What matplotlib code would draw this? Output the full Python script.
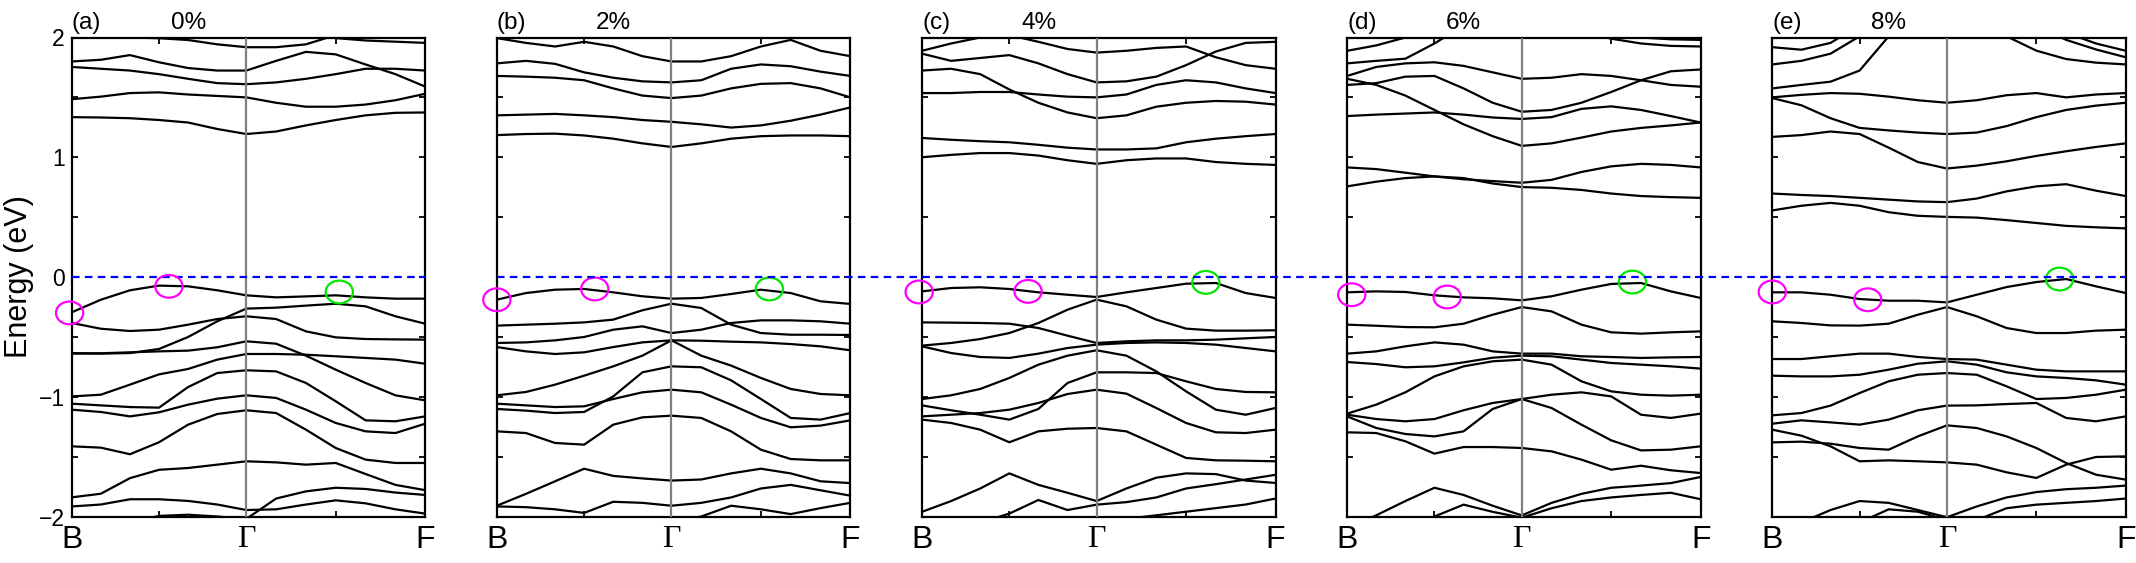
import matplotlib.pyplot as plt
from matplotlib.patches import Ellipse
from matplotlib.lines import Line2D

plt.rcParams['font.family'] = ['Liberation Sans', 'DejaVu Sans']

# k-path sample points (B -> Gamma -> F), Gamma at 0.494
kpath = [0.0, 0.0823, 0.1647, 0.247, 0.3293, 0.4117, 0.494,
         0.5783, 0.6627, 0.747, 0.8313, 0.9157, 1.0]
k_gamma = 0.494
klabels = ['B', '\u0393', 'F']

tags = ['(a)', '(b)', '(c)', '(d)', '(e)']
strains = ['0%', '2%', '4%', '6%', '8%']

# band energies (eV)
bands_a = [
    [2.0, 2.0, 2.0, 1.994, 1.979, 1.943, 1.919, 1.919, 1.943, 2.02, 2.08, 2.1, 2.1],
    [2.1, 2.1, 2.1, 2.1, 2.1, 2.1, 2.1, 2.1, 2.05, 1.995, 1.975, 1.965, 1.955],
    [1.80, 1.814, 1.853, 1.793, 1.745, 1.724, 1.724, 1.805, 1.88, 1.859, 1.775, 1.694, 1.59],
    [1.754, 1.739, 1.724, 1.694, 1.655, 1.619, 1.61, 1.625, 1.655, 1.694, 1.739, 1.739, 1.724],
    [1.485, 1.506, 1.536, 1.542, 1.524, 1.512, 1.50, 1.455, 1.422, 1.422, 1.44, 1.476, 1.53],
    [1.335, 1.332, 1.326, 1.311, 1.29, 1.236, 1.194, 1.215, 1.266, 1.311, 1.35, 1.371, 1.374],
    [-0.295, -0.19, -0.111, -0.072, -0.078, -0.111, -0.153, -0.170, -0.162, -0.153, -0.170, -0.181, -0.181],
    [-0.384, -0.432, -0.451, -0.440, -0.398, -0.351, -0.328, -0.351, -0.454, -0.504, -0.518, -0.521, -0.523],
    [-0.635, -0.640, -0.635, -0.601, -0.501, -0.370, -0.264, -0.256, -0.239, -0.223, -0.245, -0.328, -0.390],
    [-0.640, -0.637, -0.629, -0.621, -0.615, -0.587, -0.537, -0.557, -0.657, -0.774, -0.885, -0.988, -1.03],
    [-0.997, -0.983, -0.899, -0.813, -0.768, -0.690, -0.643, -0.643, -0.649, -0.662, -0.676, -0.690, -0.724],
    [-1.058, -1.072, -1.086, -1.091, -0.919, -0.802, -0.779, -0.788, -0.885, -1.038, -1.197, -1.205, -1.164],
    [-1.108, -1.127, -1.164, -1.130, -1.066, -1.016, -0.988, -1.010, -1.108, -1.219, -1.289, -1.303, -1.225],
    [-1.414, -1.425, -1.48, -1.38, -1.233, -1.144, -1.113, -1.136, -1.275, -1.428, -1.525, -1.553, -1.553],
    [-1.84, -1.81, -1.68, -1.61, -1.595, -1.567, -1.539, -1.548, -1.567, -1.553, -1.645, -1.736, -1.78],
    [-1.916, -1.90, -1.856, -1.856, -1.87, -1.90, -1.946, -1.94, -1.90, -1.865, -1.89, -1.94, -1.976],
    [-2.1, -2.1, -2.05, -1.995, -1.985, -2.0, -2.02, -1.85, -1.79, -1.76, -1.77, -1.80, -1.82],
]

bands_b = [
    [1.995, 1.955, 1.925, 1.964, 1.925, 1.844, 1.80, 1.80, 1.844, 1.925, 1.98, 1.889, 1.844],
    [1.784, 1.805, 1.78, 1.709, 1.664, 1.634, 1.625, 1.643, 1.739, 1.775, 1.760, 1.715, 1.679],
    [1.679, 1.673, 1.664, 1.643, 1.575, 1.515, 1.494, 1.515, 1.575, 1.613, 1.619, 1.575, 1.50],
    [1.35, 1.356, 1.362, 1.35, 1.335, 1.311, 1.296, 1.275, 1.248, 1.266, 1.305, 1.356, 1.416],
    [1.185, 1.194, 1.197, 1.182, 1.155, 1.116, 1.086, 1.116, 1.155, 1.176, 1.182, 1.182, 1.176],
    [-0.189, -0.134, -0.106, -0.100, -0.128, -0.161, -0.181, -0.175, -0.142, -0.106, -0.134, -0.203, -0.225],
    [-0.406, -0.398, -0.390, -0.379, -0.356, -0.278, -0.223, -0.259, -0.398, -0.468, -0.482, -0.482, -0.484],
    [-0.551, -0.546, -0.529, -0.501, -0.440, -0.412, -0.468, -0.440, -0.384, -0.362, -0.362, -0.370, -0.390],
    [-0.585, -0.621, -0.643, -0.629, -0.585, -0.546, -0.529, -0.532, -0.540, -0.546, -0.560, -0.579, -0.612],
    [-0.988, -0.960, -0.899, -0.824, -0.746, -0.657, -0.529, -0.657, -0.740, -0.843, -0.935, -0.977, -0.988],
    [-1.102, -1.116, -1.136, -1.127, -0.997, -0.796, -0.746, -0.754, -0.863, -1.019, -1.177, -1.191, -1.136],
    [-1.058, -1.072, -1.086, -1.080, -1.019, -0.963, -0.941, -0.963, -1.066, -1.177, -1.255, -1.241, -1.197],
    [-1.289, -1.303, -1.386, -1.40, -1.233, -1.172, -1.158, -1.177, -1.289, -1.442, -1.520, -1.531, -1.531],
    [-1.910, -1.811, -1.706, -1.601, -1.661, -1.682, -1.700, -1.691, -1.640, -1.601, -1.640, -1.706, -1.721],
    [-1.916, -1.922, -1.940, -1.970, -1.877, -1.886, -1.910, -1.886, -1.841, -1.766, -1.736, -1.781, -1.826],
    [-2.1, -2.1, -2.1, -2.1, -2.1, -2.08, -2.05, -2.0, -1.91, -1.94, -1.98, -1.93, -1.886],
]

bands_c = [
    [1.889, 1.95, 2.0, 2.02, 1.964, 1.904, 1.874, 1.889, 1.913, 1.925, 1.835, 1.769, 1.739],
    [1.865, 1.805, 1.829, 1.853, 1.784, 1.694, 1.625, 1.634, 1.673, 1.769, 1.883, 1.955, 1.964],
    [1.724, 1.739, 1.694, 1.566, 1.455, 1.374, 1.326, 1.35, 1.422, 1.455, 1.47, 1.464, 1.44],
    [1.536, 1.536, 1.545, 1.545, 1.524, 1.506, 1.50, 1.524, 1.604, 1.643, 1.625, 1.575, 1.536],
    [1.161, 1.146, 1.134, 1.125, 1.104, 1.08, 1.065, 1.065, 1.074, 1.125, 1.155, 1.176, 1.194],
    [1.0, 1.02, 1.035, 1.035, 1.014, 0.975, 0.945, 0.975, 0.99, 0.99, 0.96, 0.945, 0.936],
    [-0.120, -0.092, -0.086, -0.100, -0.128, -0.148, -0.167, -0.128, -0.092, -0.056, -0.050, -0.134, -0.175],
    [-0.379, -0.381, -0.384, -0.390, -0.426, -0.490, -0.551, -0.537, -0.529, -0.529, -0.523, -0.512, -0.501],
    [-0.573, -0.551, -0.518, -0.468, -0.384, -0.273, -0.189, -0.245, -0.356, -0.431, -0.448, -0.448, -0.445],
    [-0.579, -0.635, -0.668, -0.676, -0.640, -0.593, -0.565, -0.551, -0.546, -0.551, -0.565, -0.593, -0.621],
    [-1.019, -0.988, -0.935, -0.843, -0.732, -0.657, -0.612, -0.657, -0.788, -0.955, -1.108, -1.150, -1.094],
    [-1.072, -1.113, -1.150, -1.191, -1.102, -0.885, -0.796, -0.796, -0.802, -0.871, -0.935, -0.960, -0.963],
    [-1.164, -1.150, -1.136, -1.108, -1.052, -0.977, -0.941, -0.974, -1.094, -1.219, -1.297, -1.303, -1.275],
    [-1.191, -1.219, -1.275, -1.38, -1.289, -1.267, -1.261, -1.289, -1.400, -1.511, -1.531, -1.534, -1.539],
    [-1.961, -1.871, -1.766, -1.640, -1.736, -1.802, -1.871, -1.766, -1.676, -1.640, -1.646, -1.700, -1.720],
    [-2.05, -2.05, -2.05, -1.976, -1.862, -1.946, -1.901, -1.880, -1.841, -1.766, -1.730, -1.691, -1.652],
    [-2.1, -2.1, -2.1, -2.1, -2.1, -2.1, -2.05, -2.02, -1.99, -1.96, -1.93, -1.90, -1.85],
]

bands_d = [
    [1.889, 1.934, 2.0, 2.1, 2.1, 2.1, 2.1, 2.1, 2.1, 2.1, 2.1, 2.1, 2.1],
    [1.784, 1.805, 1.823, 1.95, 2.1, 2.1, 2.1, 2.1, 2.1, 2.1, 2.1, 2.1, 2.1],
    [1.679, 1.754, 1.784, 1.793, 1.763, 1.709, 1.655, 1.664, 1.694, 1.679, 1.643, 1.604, 1.589],
    [1.604, 1.619, 1.673, 1.679, 1.575, 1.455, 1.380, 1.395, 1.455, 1.545, 1.643, 1.718, 1.733],
    [1.655, 1.604, 1.515, 1.395, 1.275, 1.176, 1.095, 1.116, 1.164, 1.215, 1.245, 1.266, 1.290],
    [1.344, 1.356, 1.365, 1.374, 1.356, 1.332, 1.320, 1.335, 1.404, 1.425, 1.395, 1.344, 1.290],
    [2.1, 2.1, 2.1, 2.1, 2.1, 2.1, 2.1, 2.1, 2.05, 1.99, 1.95, 1.93, 1.925],
    [2.1, 2.1, 2.1, 2.1, 2.1, 2.1, 2.1, 2.1, 2.1, 2.03, 2.0, 1.985, 1.98],
    [0.915, 0.901, 0.871, 0.840, 0.816, 0.801, 0.787, 0.811, 0.877, 0.924, 0.945, 0.936, 0.915],
    [0.757, 0.796, 0.826, 0.840, 0.826, 0.781, 0.751, 0.745, 0.727, 0.697, 0.676, 0.667, 0.661],
    [-0.128, -0.120, -0.125, -0.153, -0.170, -0.178, -0.195, -0.161, -0.106, -0.058, -0.050, -0.120, -0.175],
    [-0.398, -0.407, -0.418, -0.420, -0.390, -0.315, -0.251, -0.287, -0.398, -0.462, -0.473, -0.462, -0.454],
    [-0.640, -0.621, -0.579, -0.546, -0.565, -0.621, -0.640, -0.640, -0.662, -0.668, -0.676, -0.671, -0.668],
    [-0.710, -0.727, -0.754, -0.746, -0.713, -0.674, -0.657, -0.662, -0.690, -0.718, -0.732, -0.746, -0.765],
    [-1.141, -1.066, -0.963, -0.830, -0.746, -0.704, -0.690, -0.732, -0.871, -0.955, -0.983, -0.991, -0.983],
    [-1.150, -1.186, -1.205, -1.186, -1.113, -1.052, -1.019, -0.983, -0.963, -0.997, -1.150, -1.177, -1.141],
    [-1.164, -1.261, -1.311, -1.331, -1.289, -1.102, -1.019, -1.094, -1.233, -1.364, -1.448, -1.442, -1.414],
    [-1.297, -1.303, -1.372, -1.475, -1.420, -1.420, -1.428, -1.456, -1.525, -1.609, -1.576, -1.614, -1.637],
    [-2.1, -1.99, -1.871, -1.760, -1.820, -1.910, -1.991, -1.886, -1.811, -1.760, -1.742, -1.721, -1.670],
    [-2.1, -2.1, -2.1, -2.0, -1.901, -1.961, -2.01, -1.931, -1.871, -1.841, -1.820, -1.802, -1.856],
]

bands_e = [
    [1.919, 1.898, 1.955, 2.1, 2.1, 2.1, 2.1, 2.1, 2.1, 2.1, 2.1, 2.1, 2.1],
    [1.775, 1.805, 1.865, 2.01, 2.1, 2.1, 2.1, 2.1, 2.1, 2.1, 2.1, 2.1, 2.1],
    [1.575, 1.604, 1.631, 1.724, 2.01, 2.1, 2.1, 2.1, 2.1, 2.1, 2.1, 2.1, 2.1],
    [1.50, 1.521, 1.536, 1.530, 1.506, 1.476, 1.455, 1.476, 1.518, 1.536, 1.50, 1.524, 1.536],
    [1.494, 1.434, 1.326, 1.245, 1.224, 1.206, 1.194, 1.206, 1.260, 1.335, 1.395, 1.431, 1.455],
    [1.170, 1.185, 1.215, 1.194, 1.080, 0.960, 0.906, 0.930, 0.966, 1.011, 1.050, 1.086, 1.116],
    [2.1, 2.1, 2.1, 2.1, 2.1, 2.1, 2.1, 2.1, 2.01, 1.89, 1.82, 1.79, 1.775],
    [2.1, 2.1, 2.1, 2.1, 2.1, 2.1, 2.1, 2.1, 2.1, 2.1, 1.98, 1.90, 1.835],
    [2.1, 2.1, 2.1, 2.1, 2.1, 2.1, 2.1, 2.1, 2.1, 2.1, 2.04, 1.95, 1.889],
    [0.697, 0.685, 0.676, 0.661, 0.646, 0.631, 0.625, 0.655, 0.715, 0.757, 0.775, 0.721, 0.676],
    [0.556, 0.595, 0.619, 0.595, 0.541, 0.511, 0.502, 0.496, 0.475, 0.451, 0.427, 0.415, 0.406],
    [-0.128, -0.128, -0.148, -0.184, -0.198, -0.198, -0.212, -0.148, -0.084, -0.042, -0.017, -0.078, -0.134],
    [-0.370, -0.384, -0.404, -0.406, -0.390, -0.315, -0.251, -0.328, -0.426, -0.468, -0.468, -0.448, -0.440],
    [-0.685, -0.685, -0.662, -0.640, -0.640, -0.668, -0.685, -0.690, -0.732, -0.774, -0.788, -0.788, -0.788],
    [-0.824, -0.830, -0.830, -0.816, -0.774, -0.724, -0.704, -0.732, -0.796, -0.830, -0.843, -0.863, -0.899],
    [-1.155, -1.136, -1.074, -0.969, -0.871, -0.816, -0.802, -0.816, -0.913, -1.019, -1.010, -0.983, -0.941],
    [-1.225, -1.197, -1.214, -1.233, -1.191, -1.113, -1.074, -1.072, -1.061, -1.052, -1.177, -1.205, -1.164],
    [-1.381, -1.375, -1.392, -1.428, -1.442, -1.331, -1.239, -1.261, -1.331, -1.428, -1.553, -1.651, -1.692],
    [-1.275, -1.325, -1.414, -1.539, -1.531, -1.539, -1.548, -1.567, -1.631, -1.678, -1.567, -1.503, -1.498],
    [-2.1, -2.05, -1.946, -1.871, -1.886, -1.946, -2.006, -1.916, -1.841, -1.796, -1.772, -1.760, -1.742],
    [-2.1, -2.1, -2.1, -2.05, -1.94, -1.96, -2.03, -2.03, -1.931, -1.901, -1.886, -1.871, -1.850],
]

# marked extrema (k, E): magenta pair and green one per panel
magenta_a = [(-0.006, -0.30), (0.275, -0.078)]
magenta_b = [(0.0, -0.19), (0.277, -0.10)]
magenta_c = [(-0.008, -0.125), (0.30, -0.12)]
magenta_d = [(0.013, -0.148), (0.283, -0.167)]
magenta_e = [(0.0, -0.125), (0.27, -0.19)]
green_a = (0.757, -0.125)
green_b = (0.771, -0.10)
green_c = (0.803, -0.045)
green_d = (0.807, -0.042)
green_e = (0.813, -0.017)

all_bands = [bands_a, bands_b, bands_c, bands_d, bands_e]
all_magenta = [magenta_a, magenta_b, magenta_c, magenta_d, magenta_e]
all_green = [green_a, green_b, green_c, green_d, green_e]

W, H = 2136, 563
fig = plt.figure(figsize=(W / 100, H / 100), dpi=100)

x0, step, pw = 71.7, 425.15, 353.5
ybot, ytop = 516.5, 37.5
axes = []
for i in range(5):
    left = (x0 + i * step) / W
    ax = fig.add_axes([left, (H - ybot) / H, pw / W, (ybot - ytop) / H])
    ax.set_facecolor('none')
    axes.append(ax)

    for b in all_bands[i]:
        ax.plot(kpath, b, color='black', lw=1.6, solid_capstyle='round')
    ax.axvline(k_gamma, color='#808080', lw=1.6, zorder=3)

    for (kx, e) in all_magenta[i]:
        ax.add_patch(Ellipse((kx, e), 0.077, 0.19, fill=False, ec='#ff00ff',
                             lw=1.6, clip_on=False, zorder=5))
    gx, ge = all_green[i]
    ax.add_patch(Ellipse((gx, ge), 0.077, 0.19, fill=False, ec='#00e600',
                         lw=1.6, clip_on=False, zorder=5))

    ax.set_xlim(0, 1)
    ax.set_ylim(-2, 2)
    ax.set_xticks([0, k_gamma, 1])
    ax.set_xticklabels(klabels, fontsize=23)
    ax.get_xticklabels()[1].set_family('Liberation Serif')
    ax.set_xticks([k_gamma / 2, (1 + k_gamma) / 2], minor=True)
    ax.tick_params(axis='x', which='major', length=0, pad=6)
    ax.tick_params(axis='x', which='minor', direction='in', length=4,
                   width=1.3, top=True, bottom=True)
    ax.set_yticks([-2, -1, 0, 1, 2])
    ax.set_yticks([-1.5, -0.5, 0.5, 1.5], minor=True)
    ax.tick_params(axis='y', which='both', direction='in', length=4,
                   width=1.3, left=True, right=True, labelsize=16.5, pad=5)
    if i > 0:
        ax.tick_params(axis='y', labelleft=False)
    for s in ax.spines.values():
        s.set_linewidth(1.6)

    ax.text(0.0, 1.018, tags[i], transform=ax.transAxes, ha='left',
            va='baseline', fontsize=17.5)
    ax.text(0.33, 1.018, strains[i], transform=ax.transAxes, ha='center',
            va='baseline', fontsize=17.5)

axes[0].set_ylabel('Energy (eV)', fontsize=22, labelpad=3)
axes[0].axhline(0, color='#0000ff', lw=1.6, ls=(0, (3.4, 2.4)), zorder=4)

# Fermi level dashed line running across panels b-e
yf = (H - (ybot + ytop) / 2) / H
xl = (x0 + step) / W
xr = (x0 + 4 * step + pw) / W
fig.add_artist(Line2D([xl, xr], [yf, yf], transform=fig.transFigure,
                      color='#0000ff', lw=1.6, ls=(0, (3.4, 2.4)), zorder=4))

fig.savefig('out.png', dpi=100)
